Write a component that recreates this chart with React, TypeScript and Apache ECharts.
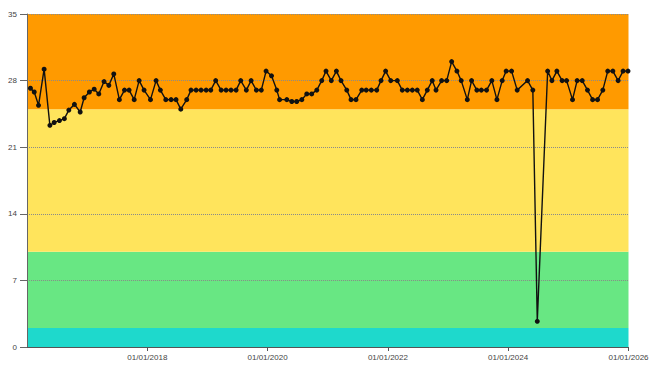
import React, { useEffect, useRef } from "react";
import * as echarts from "echarts";

const dates = [
  "2016-01-22", "2016-02-14", "2016-03-11", "2016-04-14", "2016-05-19", "2016-06-14",
  "2016-07-16", "2016-08-15", "2016-09-11", "2016-10-15", "2016-11-19", "2016-12-13",
  "2017-01-14", "2017-02-12", "2017-03-12", "2017-04-13", "2017-05-12", "2017-06-11",
  "2017-07-15", "2017-08-15", "2017-09-12", "2017-10-13", "2017-11-12", "2017-12-12",
  "2018-01-20", "2018-02-23", "2018-03-21", "2018-04-23", "2018-05-25", "2018-06-24",
  "2018-07-23", "2018-08-28", "2018-09-23", "2018-10-24", "2018-11-23", "2018-12-24",
  "2019-01-21", "2019-02-20", "2019-03-25", "2019-04-24", "2019-05-24", "2019-06-24",
  "2019-07-22", "2019-08-25", "2019-09-23", "2019-10-25", "2019-11-24", "2019-12-23",
  "2020-01-25", "2020-02-26", "2020-03-14", "2020-04-27", "2020-05-27", "2020-06-26",
  "2020-07-27", "2020-08-26", "2020-09-25", "2020-10-26", "2020-11-25", "2020-12-21",
  "2021-01-22", "2021-02-22", "2021-03-22", "2021-04-26", "2021-05-22", "2021-06-21",
  "2021-07-26", "2021-08-22", "2021-09-22", "2021-10-25", "2021-11-20", "2021-12-18",
  "2022-01-18", "2022-02-27", "2022-03-29", "2022-04-29", "2022-05-29", "2022-06-28",
  "2022-07-29", "2022-08-28", "2022-09-27", "2022-10-20", "2022-11-23", "2022-12-24",
  "2023-01-23", "2023-02-24", "2023-03-22", "2023-04-28", "2023-05-24", "2023-06-25",
  "2023-07-22", "2023-08-23", "2023-09-24", "2023-10-25", "2023-11-26", "2023-12-20",
  "2024-01-22", "2024-02-25", "2024-04-28", "2024-05-30", "2024-06-26", "2024-08-28",
  "2024-09-23", "2024-10-23", "2024-11-24", "2024-12-21", "2025-01-26", "2025-02-23",
  "2025-03-26", "2025-04-27", "2025-05-28", "2025-06-27", "2025-07-29", "2025-08-28",
  "2025-09-28", "2025-10-30", "2025-11-29", "2025-12-29",
];

const values = [
  27.2, 26.8, 25.4, 29.2, 23.3, 23.6,
  23.8, 24.0, 24.9, 25.5, 24.7, 26.2,
  26.8, 27.1, 26.6, 27.9, 27.5, 28.7,
  26, 27, 27, 26, 28, 27,
  26, 28, 27, 26, 26, 26,
  25, 26, 27, 27, 27, 27,
  27, 28, 27, 27, 27, 27,
  28, 27, 28, 27, 27, 29,
  28.5, 27, 26, 26, 25.8, 25.8,
  26, 26.6, 26.6, 27, 28, 29,
  28, 29, 28, 27, 26, 26,
  27, 27, 27, 27, 28, 29,
  28, 28, 27, 27, 27, 27,
  26, 27, 28, 27, 28, 28,
  30, 29, 28, 26, 28, 27,
  27, 27, 28, 26, 28, 29,
  29, 27, 28, 27, 2.7, 29,
  28, 29, 28, 28, 26, 28,
  28, 27, 26, 26, 27, 29,
  29, 28, 29, 29,
];

const xRange = ["2016-01-01", "2026-01-01"];
const xTickLabels = ["2018-01-01", "2020-01-01", "2022-01-01", "2024-01-01", "2026-01-01"];
const yTicks = [0, 7, 14, 21, 28, 35];
const bandLimits = [0, 2, 10, 25, 35];
const bandColors = ["#1ed9cc", "#68e783", "#ffe45c", "#ff9a00"];

const toTs = (s: string) => {
  const [y, m, d] = s.split("-").map(Number);
  return Date.UTC(y, m - 1, d);
};
const pad = (n: number) => (n < 10 ? "0" + n : "" + n);

export default function App() {
  const ref = useRef<HTMLDivElement>(null);
  useEffect(() => {
    if (!ref.current) return;
    const chart = echarts.init(ref.current, null, { renderer: "svg" });
    const data = dates.map((d, i) => [toTs(d), values[i]]);
    const tickTs = xTickLabels.map(toTs);
    const areas = bandColors.map((c, i) => [
      { yAxis: bandLimits[i], itemStyle: { color: c, opacity: 1 } },
      { yAxis: bandLimits[i + 1] },
    ]);
    chart.setOption({
      animation: false,
      grid: { left: 27, right: 30.5, top: 14, bottom: 28, containLabel: false, outerBoundsMode: "none" },
      xAxis: {
        type: "value",
        min: toTs(xRange[0]),
        max: toTs(xRange[1]),
        z: 2,
        axisLine: { show: true, lineStyle: { color: "#555", width: 1 } },
        axisTick: { show: true, customValues: tickTs, length: 4, lineStyle: { color: "#555" } },
        axisLabel: {
          customValues: tickTs,
          margin: 6,
          fontSize: 8,
          color: "#444",
          fontFamily: "Liberation Sans Narrow, Liberation Sans, Arial, sans-serif",
          formatter: (v: number) => {
            const d = new Date(v);
            return pad(d.getUTCDate()) + "/" + pad(d.getUTCMonth() + 1) + "/" + d.getUTCFullYear();
          },
        },
        splitLine: { show: false },
      },
      yAxis: {
        type: "value",
        min: yTicks[0],
        max: yTicks[yTicks.length - 1],
        interval: yTicks[1] - yTicks[0],
        z: 2,
        axisLine: { show: true, lineStyle: { color: "#666", width: 1 } },
        axisTick: { show: true, length: 7, lineStyle: { color: "#666" } },
        axisLabel: {
          margin: 10,
          fontSize: 8,
          color: "#444",
          fontFamily: "Liberation Sans Narrow, Liberation Sans, Arial, sans-serif",
        },
        splitLine: { show: true, lineStyle: { color: "#8a8a8a", type: [1, 1], width: 1 } },
      },
      series: [
        {
          type: "line",
          z: 1,
          data,
          silent: true,
          showSymbol: false,
          lineStyle: { opacity: 0 },
          markArea: { silent: true, data: areas },
        },
        {
          type: "line",
          z: 3,
          data,
          symbol: "circle",
          symbolSize: 5,
          itemStyle: { color: "#111" },
          lineStyle: { color: "#111", width: 1.4 },
        },
      ],
    });
    return () => chart.dispose();
  }, []);
  return <div ref={ref} style={{ position: "absolute", left: 0, top: 0, width: 659, height: 375 }} />;
}
